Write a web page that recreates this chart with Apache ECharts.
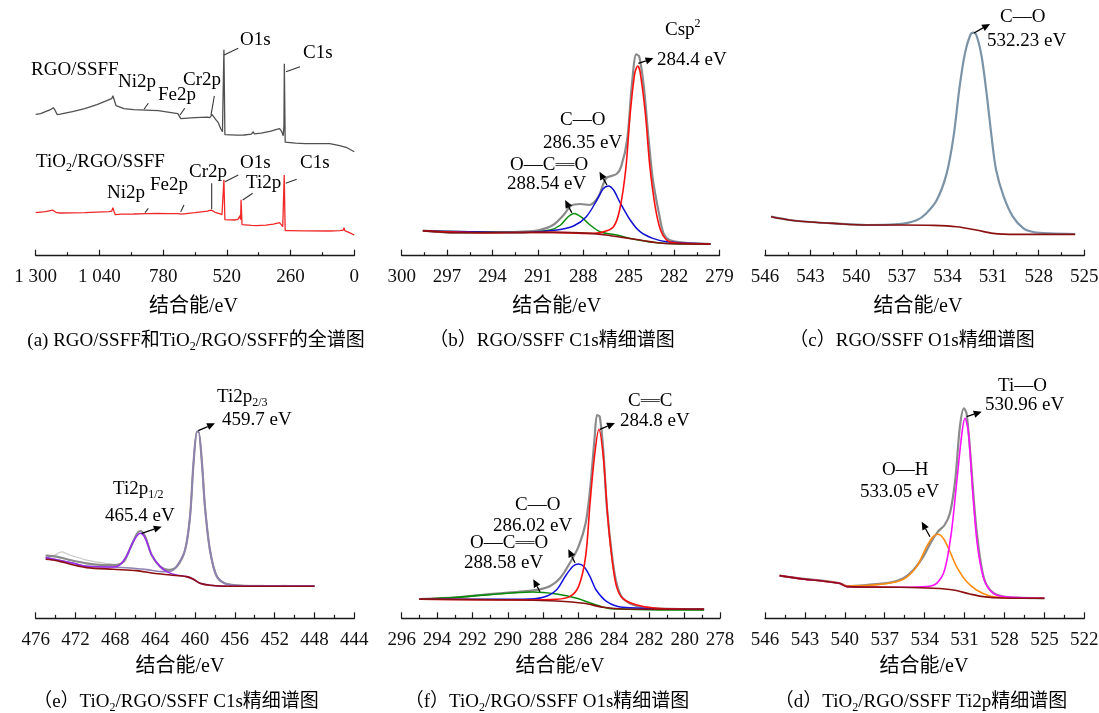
<!DOCTYPE html>
<html><head><meta charset="utf-8">
<script src="https://cdn.jsdelivr.net/npm/echarts@6/dist/echarts.min.js"></script>
<style>html,body{margin:0;padding:0;background:#fff}#c{width:1099px;height:713px}</style>
</head><body><div id="c"></div>
<script>
// ================= DATA (binding energy eV, intensity a.u.) =================
const aTicks = [1300, 1040, 780, 520, 260, 0];
const aTickLabels = ['1 300', '1 040', '780', '520', '260', '0'];
const bTicks = [300, 297, 294, 291, 288, 285, 282, 279];
const bTickLabels = ['300', '297', '294', '291', '288', '285', '282', '279'];
const cTicks = [546, 543, 540, 537, 534, 531, 528, 525];
const cTickLabels = ['546', '543', '540', '537', '534', '531', '528', '525'];
const eTicks = [476, 472, 468, 464, 460, 456, 452, 448, 444];
const eTickLabels = ['476', '472', '468', '464', '460', '456', '452', '448', '444'];
const fTicks = [296, 294, 292, 290, 288, 286, 284, 282, 280, 278];
const fTickLabels = ['296', '294', '292', '290', '288', '286', '284', '282', '280', '278'];
const dTicks = [546, 543, 540, 537, 534, 531, 528, 525, 522];
const dTickLabels = ['546', '543', '540', '537', '534', '531', '528', '525', '522'];

// (a) survey spectra
const aRGO = [[1300,141.3],[1280,142],[1260,144],[1240,146],[1228,148],[1220,145],[1212,141],[1200,141.5],[1150,144],[1100,147],[1050,151],[1000,156],[990,157],[985,160],[980,158],[972,150],[965,148],[940,147],[900,146],[850,145.5],[800,145],[760,143.5],[720,142],[712,140],[708,137],[700,137.5],[650,138],[600,138.5],[590,138],[580,141],[575,140],[565,136],[555,133],[545,127],[538,124],[534,125],[532,206],[530,206],[528,121],[520,120.7],[480,120.5],[450,120.7],[420,121.5],[412,124],[408,121.8],[380,122.5],[340,124.5],[320,126],[305,127],[296,124],[290,120],[287,130],[285.5,192],[284,192],[282,113.5],[278,113],[240,112.5],[200,112],[160,112],[158,114],[156,112],[100,112],[60,110],[30,108],[0,104]];
const aTiO2 = [[1300,43],[1260,44],[1230,45.5],[1215,43],[1200,42.7],[1100,43],[1050,43.5],[1000,44],[990,44.5],[985,48],[980,44],[975,41],[950,41.5],[900,41.7],[850,42],[800,42.3],[760,42],[720,42],[712,41],[705,41.5],[650,43],[600,44.5],[585,45.5],[580,46],[575,44.5],[565,43],[550,42],[540,41],[534,42],[532,76],[530,76],[528,36],[520,35.7],[490,35.7],[475,36.3],[468,37],[466,40],[464,36],[462,56],[460,56],[458,31],[452,30.5],[420,30.3],[400,30],[360,30.5],[330,31.5],[305,33],[298,32],[292,29],[287,30],[286,80.7],[284,80.7],[282,25],[270,25],[200,24.8],[100,24.7],[60,25],[45,25.5],[42,28],[39,25],[20,23],[0,20.7]];

// (b) RGO/SSFF C1s
const bEnvelope = [[298.6,25],[296.4,23],[294.2,23],[292,24],[290.9,25.7],[290,30.7],[289.3,40.7],[288.8,50],[288.2,51.7],[287.6,50.7],[287,59],[286.5,77.3],[285.8,81.7],[285.5,89],[285.1,115.7],[284.8,169],[284.5,201.3],[284.3,199],[284,169],[283.7,119],[283.4,75.7],[283,42.3],[282.7,22.3],[282.3,15.7],[281.4,13],[279.6,11.7]];
const bCsp2 = [[298.6,25],[294.2,23],[290,23.3],[287.6,22.3],[286.7,23.7],[286,29],[285.6,45.7],[285.2,85.7],[284.9,142.3],[284.6,182.3],[284.4,189.7],[284.25,184],[283.9,142.3],[283.6,89],[283.25,49],[282.9,25.7],[282.5,15.7],[282,13],[279.6,11.7]];
const bCO = [[298.6,25],[292,23.3],[289.75,25.7],[288.65,29.7],[287.8,39],[287.1,55.7],[286.7,66.7],[286.35,69.7],[286,65.7],[285.6,54],[284.9,35.7],[284.25,24],[283.4,17.3],[282.5,14],[279.6,11.7]];
const bOCO = [[298.6,25],[292,23.3],[290.2,25.7],[289.5,30.7],[289,39],[288.6,42.3],[288.1,38.3],[287.55,30.7],[286.9,24],[285.8,20.7],[284.9,17.3],[283.4,13.5],[282,12],[279.6,11.7]];
const bBackground = [[298.6,25],[296.4,23],[293,23.2],[289.8,23.3],[287.6,22.3],[286.5,20.7],[285.4,18.3],[284.25,15.7],[283.1,13],[282,12],[279.6,11.7]];

// (c) RGO/SSFF O1s
const cEnvelope = [[545.6,39],[544.4,35.7],[543,33.7],[541.5,32.3],[539.3,30.7],[537.8,31],[536.9,32],[536,35.7],[535.4,42.3],[534.7,55.7],[534.05,82.3],[533.6,119],[533.2,169],[532.85,202.3],[532.5,220.7],[532.3,223],[532.1,220.7],[531.75,199],[531.4,159],[531.1,119],[530.8,85.7],[530.3,59],[529.7,39],[529,27.3],[528.35,23.7],[527.3,22.3],[525.6,21.7]];
const cBackground = [[545.6,39],[544.4,35.7],[543,33.7],[541.5,32.3],[539.3,30.7],[537.1,30.7],[534.9,30.3],[533.4,29],[532.1,25.7],[531,22.3],[529.5,21.3],[525.6,21.3]];

// (e) TiO2/RGO/SSFF Ti2p
const eRaw = [[475,63],[474.5,62.5],[474,63.5],[473.6,66],[473.3,66.5],[473,65],[472.5,63],[472,61.5],[471.5,60],[471,58.5],[470.5,57.5],[470,56.5],[469.5,56],[469,55],[468.5,54.5],[468,54],[467.5,54.5],[467,57],[466.5,70],[466,82],[465.5,88],[465,82],[464.5,66],[464,57],[463.5,52],[463,50],[462.5,49],[462,49.5],[461.5,55],[461,68],[460.5,102],[460.15,155],[459.8,187],[459.65,187],[459.3,155],[459,112],[458.5,68],[458,45],[457.5,37],[457,35.5],[456.5,34],[456,33.5],[455.5,33.4],[455,32.5],[454,33],[453,32.8],[452,32.5],[451,33],[450,32.6],[449,32.8],[448,32.5]];
const eEnvelope = [[475,62.7],[473.9,61.7],[472.55,58.3],[470.9,55],[469.2,53.3],[467.9,53.3],[467.2,56.7],[466.5,70],[465.85,84.3],[465.5,87.3],[465,81.7],[464.35,63.3],[463.5,51.7],[462.7,48.3],[461.85,51.7],[461,68.3],[460.5,101.7],[460.15,155],[459.8,186.7],[459.65,186.7],[459.3,155],[459,111.7],[458.5,68.3],[457.8,41.7],[456.8,34.3],[454.1,32.3],[450.8,32.3],[448,32.3]];
const eTi2p32 = [[475,60.7],[472.2,55],[470.9,52],[468.2,51.3],[466.5,50.3],[464.85,48.7],[463.2,46.7],[462.35,47.3],[461.85,51.7],[461,68.3],[460.5,101.7],[460.15,155],[459.8,186.7],[459.65,186.7],[459.3,155],[459,111.7],[458.5,68.3],[457.8,41.7],[456.8,34],[454.1,32.2],[448,32.2]];
const eTi2p12 = [[475,60.7],[472.2,55],[470.9,52],[468.2,51.3],[467.55,53.3],[466.9,61.7],[466.2,76.7],[465.5,85],[465,80],[464.35,63.3],[463.5,51.7],[462.85,46.7],[462,43.5],[460.85,41.7],[460.2,39.3],[459.5,35],[458.5,33],[456.8,32],[448,32]];
const eBackground = [[475,59],[473.9,57.7],[472.2,53.3],[470.9,50.7],[468.2,49],[465.85,47.7],[464.2,45],[462.5,43.3],[460.85,41.7],[460.2,39.3],[459.5,35],[458.5,33],[456.8,32],[448,32]];

// (f) TiO2/RGO/SSFF C1s
const fEnvelope = [[295,19.3],[292.9,21],[291,24.3],[289.1,27],[288.2,29],[287.6,32.3],[287.05,40],[286.5,55],[286,71.7],[285.6,95],[285.35,128.3],[285.1,178.3],[284.95,203.3],[284.8,201.7],[284.6,168.3],[284.4,111.7],[284.1,61.7],[283.85,35],[283.5,20],[282.7,12.3],[281.6,10],[278.9,9]];
const fCC = [[295,19],[289.1,18.3],[287.25,19],[286.5,21.7],[286,31.7],[285.6,61.7],[285.35,115],[285.1,161.7],[284.85,189],[284.6,161.7],[284.35,101.7],[284.1,58.3],[283.85,31.7],[283.5,20],[282.7,13.3],[281.6,10],[278.9,9]];
const fCO = [[295,19],[289.1,19],[288,21],[287.25,28.3],[286.7,43.3],[286.3,52.3],[286,54.3],[285.7,51.7],[285.35,41.7],[285,28.3],[284.4,16.7],[283.5,11],[278.9,9]];
const fOCO = [[295,19],[292.9,21],[291,23.7],[288.6,26.3],[287.25,24.3],[286.1,20],[285,13.3],[284.2,9.7],[278.9,8.3]];
const fBackground = [[295,19],[289.1,18.3],[287.25,17.3],[285.7,15],[284.6,11],[283.5,9.3],[278.9,9]];

// (d) TiO2/RGO/SSFF O1s
const dEnvelope = [[544.9,42.7],[543.4,40],[541.7,37.7],[540.4,35],[539.85,32.3],[538.4,33.3],[536.6,35.7],[535.6,40],[534.85,48.3],[534.1,61.7],[533.5,76.7],[533,86.7],[532.5,93.3],[532.1,105],[531.7,138.3],[531.35,191.7],[531.05,210],[530.85,205],[530.55,161.7],[530.2,101.7],[529.85,61.7],[529.5,38.3],[528.95,26.7],[528.1,21.7],[527.1,20.7],[525,20]];
const dTiO = [[544.9,42.7],[543.4,39.7],[541.7,37.3],[540.4,35],[539.85,31.7],[535.85,31],[533.85,31.7],[533.1,35],[532.5,48.3],[532,85],[531.6,135],[531.2,185],[530.97,200],[530.7,185],[530.4,128.3],[530.05,75],[529.6,41.7],[529.1,28.3],[528.35,22.3],[525,20]];
const dOH = [[544.9,42.7],[543.4,39.7],[541.7,37.3],[540.4,35],[539.85,32.3],[537.1,34.3],[535.6,39],[534.6,51.7],[533.85,71.7],[533.35,81.7],[533.02,84],[532.6,80],[532.1,66.7],[531.6,51.7],[530.85,36.7],[530.1,28.3],[529.1,22.3],[528.1,20.7],[525,20]];
const dBackground = [[544.9,42.7],[543.4,39.7],[541.7,37.3],[540.4,35],[539.85,31.7],[535.85,31],[533.35,30],[531.85,28.3],[530.6,24.3],[529.6,21.7],[528.1,20.3],[525,20]];

// annotation pointers (data space: [eV, intensity])
const aPointers = [[[858,146.4],[840.5,152.4]],[[711,140.7],[692,147.4]],[[584.7,140.7],[571.2,159.7]],[[531.6,200.7],[473.3,207.4]],[[278.7,184],[221.6,189]],
  [[854,43],[840.5,47.4]],[[708.3,44],[694.9,50.7]],[[581.9,72.4],[581.9,46.4]],[[527.6,74],[473.3,80.7]],[[455.3,55.7],[414.6,62.4]],[[279.9,72.4],[235,76.4]]];
const bArrows = [[[284.36,192.4],[283.36,197.4]],[[286.44,70.7],[286.93,84]],[[288.76,43],[289.2,55.7]]];
const cArrows = [[[532.25,222.7],[531.2,231.7]]];
const eArrows = [[[459.67,187.6],[457.99,195]],[[465.35,85],[463.34,91.6]]];
const fArrows = [[[284.79,189],[283.94,195.3]],[[286.2,55.6],[286.58,69]],[[288.18,26.6],[288.56,39]]];
const dArrows = [[[530.84,201.6],[529.71,206.6]],[[533.6,81.6],[534.22,96.6]]];

// ================= CHART =================
const SERIF = "'Liberation Serif', 'Noto Sans CJK SC', serif";
const CJK = "'Noto Sans CJK SC', sans-serif";
const chart = echarts.init(document.getElementById('c'), null, {renderer: 'canvas'});

const grids = [
  {left: 35.7, top: 15.7, width: 318.6, height: 240},
  {left: 401.7, top: 15.7, width: 317.8, height: 240},
  {left: 765, top: 15.7, width: 319.3, height: 240},
  {left: 35.7, top: 378.3, width: 318.6, height: 240},
  {left: 401.7, top: 378.3, width: 318.3, height: 240},
  {left: 765, top: 378.3, width: 319.3, height: 240}
].map(g => Object.assign({containLabel: false, outerBoundsMode: 'none', show: false}, g));

const axisDefs = [
  {ticks: aTicks, labels: aTickLabels, interval: 260},
  {ticks: bTicks, labels: bTickLabels, interval: 3},
  {ticks: cTicks, labels: cTickLabels, interval: 3},
  {ticks: eTicks, labels: eTickLabels, interval: 4},
  {ticks: fTicks, labels: fTickLabels, interval: 2},
  {ticks: dTicks, labels: dTickLabels, interval: 3}
];
const AX = '#1a1a1a';
const xAxis = axisDefs.map((d, i) => ({
  type: 'value', gridIndex: i, inverse: true,
  min: Math.min(...d.ticks), max: Math.max(...d.ticks), interval: d.interval,
  axisLine: {show: true, onZero: false, lineStyle: {color: AX, width: 1.3}},
  axisTick: {show: true, inside: true, length: 6, lineStyle: {color: AX, width: 1.2}},
  minorTick: {show: true, splitNumber: 2, length: 3.5, lineStyle: {color: AX, width: 1.2}},
  splitLine: {show: false}, minorSplitLine: {show: false},
  axisLabel: {show: true, margin: 12, fontSize: 19, fontFamily: SERIF, color: '#111',
    showMinLabel: true, showMaxLabel: true, hideOverlap: false,
    formatter: v => { const k = d.ticks.findIndex(t => Math.abs(t - v) < 1e-6); return k >= 0 ? d.labels[k] : ''; }}
}));
const yAxis = grids.map((g, i) => ({type: 'value', gridIndex: i, min: 0, max: 240, show: false}));

function S(i, data, color, width, extra) {
  return Object.assign({
    type: 'line', xAxisIndex: i, yAxisIndex: i, data: data, showSymbol: false, symbol: 'none',
    smooth: 0.3, silent: true, animation: false, clip: false,
    lineStyle: {color: color, width: width}, emphasis: {disabled: true}
  }, extra || {});
}

const GRAY = '#8a8a8a', BG = '#8b1010';
const series = [
  S(0, aRGO, '#505050', 1.3, {smooth: false}),
  S(0, aTiO2, '#f02828', 1.3, {smooth: false}),

  S(1, bEnvelope, GRAY, 2.2),
  S(1, bOCO, '#0a8a0a', 1.5),
  S(1, bCO, '#1010d0', 1.5),
  S(1, bCsp2, '#ff1010', 1.6),
  S(1, bBackground, BG, 1.6),

  S(2, cEnvelope, '#7b93a6', 2.2),
  S(2, cBackground, BG, 1.6),

  S(3, eRaw, '#c8c8c8', 1.2),
  S(3, eEnvelope, GRAY, 2.2),
  S(3, eTi2p32, '#8f82b2', 1.6),
  S(3, eTi2p12, '#9a2cf0', 1.6),
  S(3, eBackground, BG, 1.6),

  S(4, fEnvelope, GRAY, 2.2),
  S(4, fOCO, '#0a8a0a', 1.6),
  S(4, fCO, '#1010e0', 1.5),
  S(4, fCC, '#ff1010', 1.6),
  S(4, fBackground, BG, 1.6),

  S(5, dEnvelope, GRAY, 2.2),
  S(5, dOH, '#ff8c10', 1.6),
  S(5, dTiO, '#ff10ff', 1.6),
  S(5, dBackground, BG, 1.6)
];

// ---- text layout ----
const RICH = {
  sub: {fontSize: 12, fontFamily: SERIF, lineHeight: 12, verticalAlign: 'bottom', fill: '#000'},
  sup: {fontSize: 12, fontFamily: SERIF, lineHeight: 12, verticalAlign: 'top', fill: '#000'},
  dbl: {fontSize: 19, fontFamily: CJK, lineHeight: 24, fill: '#000'}
};
function T(x, y, text, align, size) {
  return {type: 'text', x: x, y: y, silent: true, z: 100,
    style: {text: text, fontFamily: SERIF, fontSize: size || 19, lineHeight: 24, fill: '#000',
      align: align || 'left', verticalAlign: 'middle', rich: RICH}};
}
const annotations = [
  ['RGO/SSFF', 31, 70], ['Ni2p', 118, 82], ['Fe2p', 158, 95], ['Cr2p', 183, 80], ['O1s', 240, 40], ['C1s', 303, 53],
  ['TiO{sub|2}/RGO/SSFF', 36, 162], ['Ni2p', 107, 193], ['Fe2p', 150, 185], ['Cr2p', 189, 172], ['O1s', 240, 163], ['Ti2p', 246, 183], ['C1s', 300, 163],
  ['Csp{sup|2}', 665, 30], ['284.4 eV', 657, 60], ['C\u2014O', 560, 120], ['286.35 eV', 543, 143], ['O\u2014C{dbl|\u2550}O', 510, 165], ['288.54 eV', 507, 184],
  ['C\u2014O', 1000, 17], ['532.23 eV', 987, 41],
  ['Ti2p{sub|2/3}', 217, 397], ['459.7 eV', 222, 420], ['Ti2p{sub|1/2}', 113, 489], ['465.4 eV', 105, 516],
  ['C{dbl|\u2550}C', 628, 401], ['284.8 eV', 620, 421], ['C\u2014O', 515, 505], ['286.02 eV', 493, 526], ['O\u2014C{dbl|\u2550}O', 470, 543], ['288.58 eV', 464, 563],
  ['Ti\u2014O', 998, 386], ['530.96 eV', 985, 405], ['O\u2014H', 882, 470], ['533.05 eV', 860, 492]
];
const axisNames = [[193.5, 307], [556.7, 307], [918, 307], [180, 667], [560, 667], [924, 667]];
const captions = [
  ['(a) RGO/SSFF\u548cTiO{sub|2}/RGO/SSFF\u7684\u5168\u8c31\u56fe', 196, 341],
  ['\uff08b\uff09RGO/SSFF C1s\u7cbe\u7ec6\u8c31\u56fe', 552, 341],
  ['\uff08c\uff09RGO/SSFF O1s\u7cbe\u7ec6\u8c31\u56fe', 912, 341],
  ['\uff08e\uff09TiO{sub|2}/RGO/SSFF C1s\u7cbe\u7ec6\u8c31\u56fe', 176, 702],
  ['\uff08f\uff09TiO{sub|2}/RGO/SSFF O1s\u7cbe\u7ec6\u8c31\u56fe', 547, 702],
  ['\uff08d\uff09TiO{sub|2}/RGO/SSFF Ti2p\u7cbe\u7ec6\u8c31\u56fe', 921, 702]
];
const graphic = []
  .concat(annotations.map(a => T(a[1], a[2], a[0])))
  .concat(axisNames.map(a => T(a[0], a[1], '\u7ed3\u5408\u80fd/eV', 'center', 20)))
  .concat(captions.map(c => T(c[1], c[2], c[0], 'center', 19)));

chart.setOption({
  backgroundColor: '#fff',
  animation: false,
  grid: grids, xAxis: xAxis, yAxis: yAxis, series: series,
  graphic: graphic
});

// pointer lines and arrows, placed through the axes' own scales
const pointerSets = [[0, aPointers, false]].concat([[1, bArrows], [2, cArrows], [3, eArrows], [4, fArrows], [5, dArrows]].map(s => [s[0], s[1], true]));
const extra = [];
pointerSets.forEach(([gi, list, arrow]) => list.forEach(([p0, p1]) => {
  const a = chart.convertToPixel({gridIndex: gi}, p0);
  const b = chart.convertToPixel({gridIndex: gi}, p1);
  if (!arrow) {
    extra.push({type: 'line', silent: true, z: 100, shape: {x1: a[0], y1: a[1], x2: b[0], y2: b[1]}, style: {stroke: '#333', lineWidth: 1.1}});
    return;
  }
  const ang = Math.atan2(b[1] - a[1], b[0] - a[0]);
  const L = 8, W = 3.6;
  const base = [b[0] - L * Math.cos(ang), b[1] - L * Math.sin(ang)];
  const left = [base[0] + W * Math.sin(ang), base[1] - W * Math.cos(ang)];
  const right = [base[0] - W * Math.sin(ang), base[1] + W * Math.cos(ang)];
  extra.push({type: 'line', silent: true, z: 100, shape: {x1: a[0], y1: a[1], x2: base[0], y2: base[1]}, style: {stroke: '#000', lineWidth: 1.3}});
  extra.push({type: 'polygon', silent: true, z: 100, shape: {points: [b, left, right]}, style: {fill: '#000'}});
}));
chart.setOption({graphic: graphic.concat(extra)});
</script>
</body></html>
